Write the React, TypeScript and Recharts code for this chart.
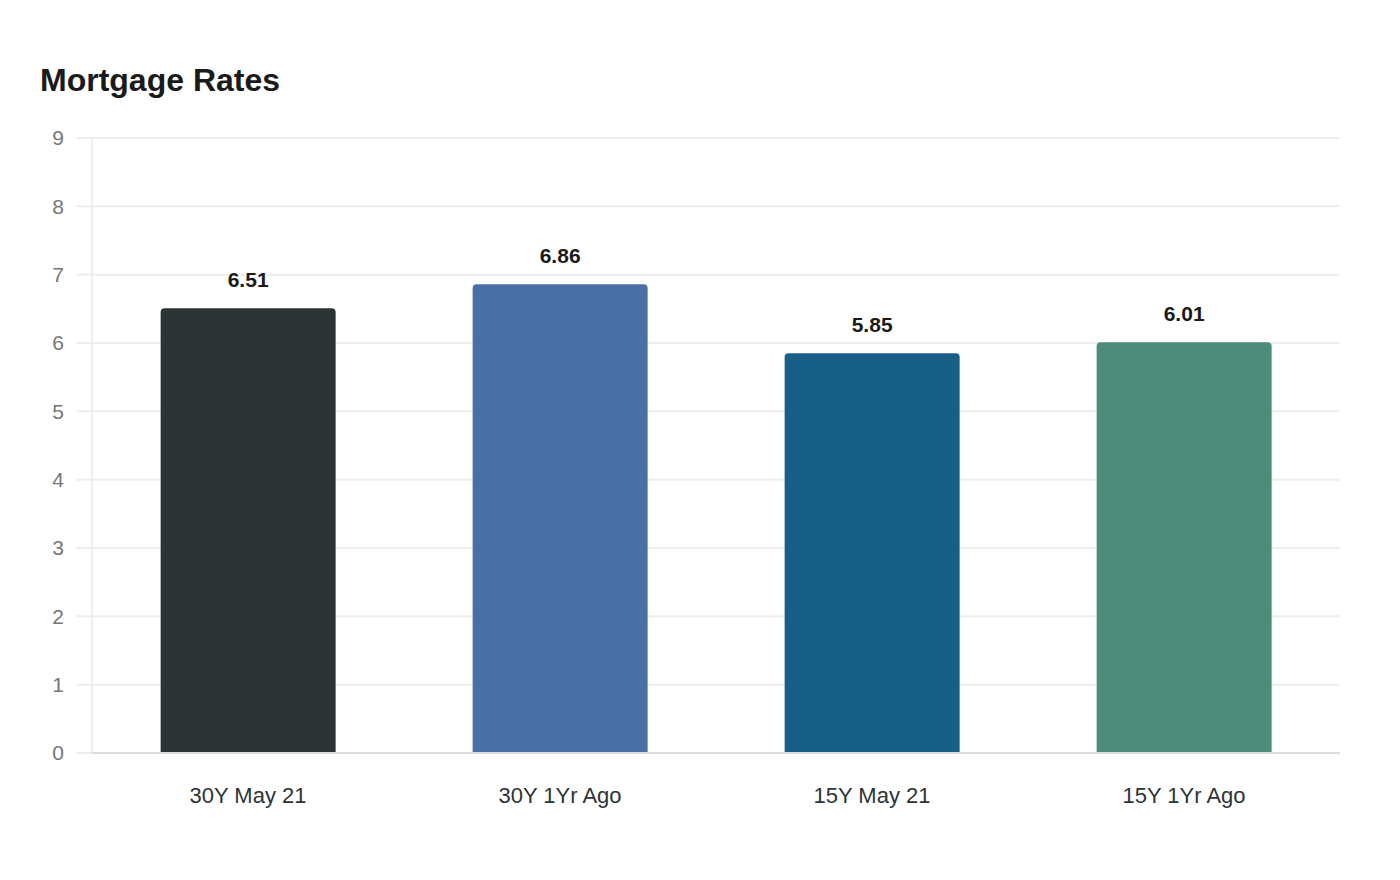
import { Bar, BarChart, CartesianGrid, Cell, LabelList, XAxis, YAxis } from 'recharts';

const categories = ['30Y May 21', '30Y 1Yr Ago', '15Y May 21', '15Y 1Yr Ago'];
const rates = [6.51, 6.86, 5.85, 6.01];
const barColors = ['#2d3436', '#4a6fa5', '#185f87', '#4e8c7a'];
const yTicks = [0, 1, 2, 3, 4, 5, 6, 7, 8, 9];

const FONT = '"Liberation Sans", Arial, sans-serif';

export default function App() {
  const chartData = categories.map((name, i) => ({ name, rate: rates[i] }));

  return (
    <div
      style={{
        position: 'relative',
        width: 1384,
        height: 864,
        fontFamily: FONT,
        background: '#fff',
      }}
    >
      <div
        style={{
          position: 'absolute',
          left: 32,
          top: 56,
          fontSize: 32,
          lineHeight: '32px',
          fontWeight: 700,
          color: '#1a1a1a',
        }}
      >
        Mortgage Rates
      </div>
      <BarChart
        width={1384}
        height={864}
        data={chartData}
        margin={{ top: 130, right: 52, left: 24, bottom: 59 }}
        barCategoryGap="22%"
        style={{ fontFamily: FONT }}
      >
        <CartesianGrid vertical={false} stroke="#eeeeee" strokeWidth={2} />
        <XAxis
          dataKey="name"
          height={60}
          axisLine={{ stroke: '#dddddd', strokeWidth: 2 }}
          tickLine={false}
          tickSize={0}
          tickMargin={34}
          tick={{ fill: '#2d3436', fontSize: 22 }}
        />
        <YAxis
          width={60}
          domain={[0, 9]}
          ticks={yTicks}
          interval={0}
          axisLine={{ stroke: '#dddddd', strokeWidth: 1 }}
          tickLine={{ stroke: '#eeeeee', strokeWidth: 2 }}
          tickSize={16}
          tickMargin={12}
          tick={{ fill: '#777777', fontSize: 21 }}
        />
        <Bar dataKey="rate" radius={[4, 4, 0, 0]} isAnimationActive={false}>
          {chartData.map((d, i) => (
            <Cell key={d.name} fill={barColors[i]} />
          ))}
          <LabelList
            dataKey="rate"
            position="top"
            offset={21}
            fill="#1a1a1a"
            fontSize={21}
            fontWeight={700}
          />
        </Bar>
      </BarChart>
    </div>
  );
}
